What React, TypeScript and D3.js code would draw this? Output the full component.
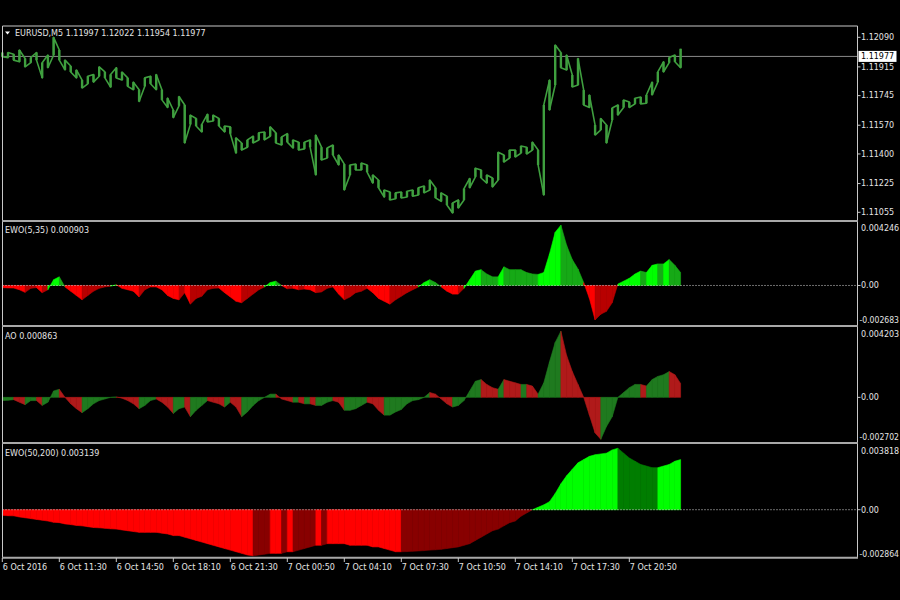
import React from 'react';
import * as d3 from 'd3';

// ---------- DATA ----------
const symbolTitle = 'EURUSD,M5';
const lastBar = [1.11997, 1.12022, 1.11954, 1.11977]; // O H L C
const timeLabels = ['6 Oct 2016', '6 Oct 11:30', '6 Oct 14:50', '6 Oct 18:10', '6 Oct 21:30', '7 Oct 00:50', '7 Oct 04:10', '7 Oct 07:30', '7 Oct 10:50', '7 Oct 14:10', '7 Oct 17:30', '7 Oct 20:50'];
const priceTicks = [1.1209, 1.11915, 1.11745, 1.1157, 1.114, 1.11225, 1.11055];

// price high / low sampled every 20 minutes starting 6 Oct 08:10
const priceHigh = [
  1.12000, 1.12000, 1.11990, 1.12015, 1.11965, 1.11970, 1.12000, 1.11940, 1.11985, 1.12090,
  1.12015, 1.11955, 1.11920, 1.11897, 1.11837, 1.11860, 1.11870, 1.11915, 1.11885, 1.11870,
  1.11910, 1.11885, 1.11850, 1.11825, 1.11780, 1.11850, 1.11860, 1.11870, 1.11780, 1.11730,
  1.11660, 1.11740, 1.11690, 1.11630, 1.11610, 1.11575, 1.11635, 1.11630, 1.11610, 1.11565,
  1.11560, 1.11495, 1.11465, 1.11483, 1.11505, 1.11525, 1.11530, 1.11560, 1.11525, 1.11500,
  1.11520, 1.11483, 1.11470, 1.11470, 1.11483, 1.11512, 1.11440, 1.11435, 1.11453, 1.11394,
  1.11340, 1.11335, 1.11340, 1.11346, 1.11335, 1.11276, 1.11246, 1.11187, 1.11175, 1.11170,
  1.11175, 1.11180, 1.11187, 1.11200, 1.11210, 1.11246, 1.11200, 1.11170, 1.11150, 1.11110,
  1.11128, 1.11195, 1.11255, 1.11316, 1.11305, 1.11276, 1.11258, 1.11410, 1.11394, 1.11423,
  1.11423, 1.11447, 1.11440, 1.11470, 1.11423, 1.11690, 1.11837, 1.12044, 1.12000, 1.11985,
  1.11867, 1.11965, 1.11778, 1.11749, 1.11571, 1.11610, 1.11571, 1.11672, 1.11690, 1.11719,
  1.11707, 1.11730, 1.11737, 1.11749, 1.11825, 1.11885, 1.11945, 1.11970, 1.11985, 1.12022,
];
const priceLow = [
  1.11975, 1.11970, 1.11955, 1.11945, 1.11915, 1.11940, 1.11955, 1.11850, 1.11910, 1.11985,
  1.11955, 1.11897, 1.11885, 1.11850, 1.11790, 1.11815, 1.11825, 1.11860, 1.11850, 1.11795,
  1.11850, 1.11837, 1.11800, 1.11780, 1.11710, 1.11800, 1.11815, 1.11780, 1.11720, 1.11675,
  1.11615, 1.11685, 1.11465, 1.11575, 1.11565, 1.11530, 1.11590, 1.11595, 1.11565, 1.11530,
  1.11520, 1.11405, 1.11423, 1.11440, 1.11465, 1.11483, 1.11483, 1.11505, 1.11465, 1.11453,
  1.11470, 1.11435, 1.11423, 1.11430, 1.11440, 1.11276, 1.11364, 1.11376, 1.11394, 1.11335,
  1.11187, 1.11276, 1.11305, 1.11305, 1.11293, 1.11228, 1.11200, 1.11145, 1.11128, 1.11135,
  1.11140, 1.11145, 1.11150, 1.11157, 1.11170, 1.11187, 1.11140, 1.11120, 1.11098, 1.11051,
  1.11080, 1.11128, 1.11200, 1.11265, 1.11258, 1.11228, 1.11205, 1.11246, 1.11352, 1.11376,
  1.11382, 1.11405, 1.11400, 1.11423, 1.11335, 1.11157, 1.11660, 1.11808, 1.11910, 1.11897,
  1.11796, 1.11808, 1.11690, 1.11675, 1.11512, 1.11542, 1.11465, 1.11601, 1.11630, 1.11675,
  1.11675, 1.11696, 1.11696, 1.11700, 1.11749, 1.11825, 1.11885, 1.11940, 1.11945, 1.11910,
];

const ewoFast = [
  -0.00015, -0.00017, -0.00018, -0.0003, -0.00048, -0.0002, -0.00015, -0.0005, -0.0003, 0.0004,
  0.0006, -0.0001, -0.0004, -0.0007, -0.001, -0.0007, -0.0004, -0.0002, -0.0001, -0.00005,
  0.00005, -0.0002, -0.0003, -0.0004, -0.0008, -0.0003, -0.0001, -0.0001, -0.0003, -0.0007,
  -0.0009, -0.001, -0.0005, -0.0013, -0.0009, -0.00075, -0.0003, -0.0002, -0.00018, -0.0005,
  -0.0008, -0.0011, -0.0012, -0.0009, -0.0006, -0.0003, -0.0001, 0.0002, 0.0003, 0,
  -0.00023, -0.0002, -0.0003, -0.00025, -0.0003, -0.0005, -0.00045, -0.0002, -0.0001, -0.0006,
  -0.001, -0.0008, -0.0005, -0.0004, -0.0002, -0.0005, -0.0009, -0.0011, -0.0013, -0.001,
  -0.00075, -0.0005, -0.0003, -0.0001, 0.0002, 0.0004, 0.0002, -0.0001, -0.0004, -0.0006,
  -0.0006, -0.0002, 0.0004, 0.001, 0.0011, 0.0008, 0.0006, 0.0006, 0.0013, 0.0011,
  0.0011, 0.0011, 0.0009, 0.0008, 0.00077, 0.0009, 0.0022, 0.0037, 0.0042, 0.0028,
  0.0018, 0.00115, 0.0002, -0.0009, -0.0024, -0.002, -0.0018, -0.0012, 0.0001, 0.0003,
  0.0005, 0.0008, 0.001, 0.0009, 0.0014, 0.0015, 0.0015, 0.0018, 0.0014, 0.0009,
];
const aoValues = [
  -0.0002, -0.00018, -0.00014, -0.0003, -0.00045, -0.0002, -0.0002, -0.0005, -0.0003, 0.0004,
  0.0005, 0, -0.0004, -0.0007, -0.00095, -0.0007, -0.0004, -0.0002, -0.0001, 0,
  0.00003, -0.00005, -0.0002, -0.0004, -0.0007, -0.0005, -0.0002, -0.0001, -0.0003, -0.0006,
  -0.001, -0.0007, -0.0006, -0.0012, -0.0008, -0.0005, -0.0002, -0.0003, -0.0004, -0.0006,
  -0.0003, -0.0006, -0.0012, -0.0009, -0.0005, -0.0002, 0, 0.0002, 0.0002, -0.0001,
  -0.0002, -0.0003, -0.0003, -0.0004, -0.0004, -0.0005, -0.0005, -0.0003, -0.0002, -0.0003,
  -0.0008, -0.0008, -0.0007, -0.0005, -0.0003, -0.0004, -0.0008, -0.0011, -0.0011, -0.0009,
  -0.00075, -0.0004, -0.0002, -0.00014, 0, 0.0003, 0.0002, -0.0001, -0.0004, -0.0006,
  -0.0005, -0.0002, 0.0004, 0.001, 0.0011, 0.0008, 0.0006, 0.0005, 0.0011, 0.001,
  0.0009, 0.0008, 0.0008, 0.0007, 0.0002, 0.0009, 0.0022, 0.0034, 0.0041, 0.0026,
  0.0016, 0.0008, 0, -0.0011, -0.0022, -0.0026, -0.0018, -0.0012, 0, 0.0003,
  0.0006, 0.0008, 0.0008, 0.0007, 0.0011, 0.0013, 0.0014, 0.0016, 0.0014, 0.00086,
];
const ewoSlow = [
  -0.00035, -0.00037, -0.00038, -0.00045, -0.0005, -0.00055, -0.0006, -0.00065, -0.0007, -0.00078,
  -0.0008, -0.00088, -0.00092, -0.00097, -0.001, -0.00105, -0.0011, -0.00112, -0.00115, -0.00118,
  -0.0012, -0.00125, -0.0013, -0.00135, -0.0014, -0.0014, -0.0014, -0.0014, -0.00145, -0.0015,
  -0.0016, -0.0016, -0.0017, -0.0018, -0.0019, -0.002, -0.0021, -0.0022, -0.0023, -0.0024,
  -0.0025, -0.0026, -0.0027, -0.0028, -0.00285, -0.0028, -0.00275, -0.0027, -0.0027, -0.0027,
  -0.0026, -0.0026, -0.0025, -0.0024, -0.0023, -0.0022, -0.0022, -0.0021, -0.0021, -0.0021,
  -0.0021, -0.0022, -0.0022, -0.0022, -0.0022, -0.0023, -0.0023, -0.0024, -0.0025, -0.0026,
  -0.0026, -0.00259, -0.00257, -0.00255, -0.00253, -0.0025, -0.00248, -0.00245, -0.0024, -0.00235,
  -0.0023, -0.0022, -0.0021, -0.0019, -0.0017, -0.0015, -0.0013, -0.0012, -0.001, -0.0008,
  -0.0007, -0.0004, -0.0002, 0, 0.00015, 0.0003, 0.0005, 0.001, 0.0016, 0.0021,
  0.0025, 0.0029, 0.0031, 0.0033, 0.0034, 0.00345, 0.0035, 0.0037, 0.0038, 0.0035,
  0.0032, 0.003, 0.0028, 0.0027, 0.0026, 0.0026, 0.0027, 0.0028, 0.003, 0.0031,
];

const ewoFastRange = [-0.002683, 0.004246];
const aoRange = [-0.002702, 0.004203];
const ewoSlowRange = [-0.002864, 0.003818];
const ewoFastLast = '0.000903';
const aoLast = '0.000863';
const ewoSlowLast = '0.003139';

// ---------- LAYOUT ----------
const W = 900, H = 600;
const L = 2.5, R = 857.5;
const FONT = 'DejaVu Sans, Verdana, sans-serif';
const TXT = '#e4e4e4';
const PRICE_GREEN = '#3f9f3f';
const MIN = 60000;
const t0 = Date.UTC(2016, 9, 6, 8, 10);
const step = 20 * MIN;
const times = priceHigh.map((_, i) => new Date(t0 + i * step));
const tickTimes = timeLabels.map((_, k) => new Date(t0 + k * 200 * MIN));

const x = d3.scaleUtc().domain([times[0], times[times.length - 1]]).range([2.3, 2.3 + (times.length - 1) * 5.7]);
const yPrice = d3.scaleLinear().domain([1.11055, 1.1209]).range([212.3, 37.3]);
const yFast = d3.scaleLinear().domain(ewoFastRange).range([324, 224.5]);
const yAO = d3.scaleLinear().domain(aoRange).range([441, 329.5]);
const ySlow = d3.scaleLinear().domain(ewoSlowRange).range([556, 448]);

type ColorFn = (a: number, b: number) => string;
const ewoColor = (bg: string, dg: string, br: string, dr: string): ColorFn => (a, b) => {
  const mid = (a + b) / 2;
  const rising = b > a;
  if (mid >= 0) return rising ? bg : dg;
  return rising ? dr : br;
};
const aoColor: ColorFn = (a, b) => (b >= a ? '#1f7a1f' : '#b01a1a');

function Histogram({ values, y, color }: { values: number[]; y: d3.ScaleLinear<number, number>; color: ColorFn }) {
  const area = d3.area<[Date, number]>().x((d) => x(d[0])).y0(y(0)).y1((d) => y(d[1]));
  return (
    <g>
      {values.slice(0, -1).map((v, i) => {
        const w = values[i + 1];
        const c = color(v, w);
        const d = area([[times[i], v], [times[i + 1], w]]) || '';
        return <path key={i} d={d} fill={c} stroke={c} strokeWidth={0.6} />;
      })}
    </g>
  );
}

function RightLabel({ yv, text, tick, fit }: { yv: number; text: string; tick?: boolean; fit?: boolean }) {
  return (
    <g>
      {tick && <line x1={R} x2={R + 3} y1={yv} y2={yv} stroke="#c8c8c8" strokeWidth={1} />}
      <text
        x={fit ? R + 2 : R + 3.5}
        y={yv}
        dy="0.35em"
        fontSize={8}
        fontFamily={FONT}
        fill={TXT}
        {...(fit ? { textLength: 39.5, lengthAdjust: 'spacingAndGlyphs' } : {})}
      >
        {text}
      </text>
    </g>
  );
}

export default function App() {
  // price zig-zag path through high/low of each sample
  const pts: [number, number][] = [];
  times.forEach((t, i) => {
    const xi = x(t);
    if (i % 2 === 0) {
      pts.push([xi, yPrice(priceHigh[i])]);
      pts.push([xi, yPrice(priceLow[i])]);
    } else {
      pts.push([xi, yPrice(priceLow[i])]);
      pts.push([xi, yPrice(priceHigh[i])]);
    }
  });
  const priceLine = d3.line()(pts) || '';
  const close = lastBar[3];
  const sepColor = '#a8a8a8';
  const separators = [221, 326, 443, 557.7];

  return (
    <svg width={W} height={H} style={{ position: 'fixed', left: 0, top: 0, background: '#000' }}>
      <rect x={0} y={0} width={W} height={H} fill="#000" />

      {/* price panel */}
      <line x1={L} x2={R} y1={yPrice(close)} y2={yPrice(close)} stroke="#8a8a8a" strokeWidth={1} />
      <g>
        {times.map((t, i) => (
          <line key={i} x1={x(t)} x2={x(t)} y1={yPrice(priceHigh[i])} y2={yPrice(priceLow[i])} stroke={PRICE_GREEN} strokeWidth={2.4} />
        ))}
        <path d={priceLine} fill="none" stroke={PRICE_GREEN} strokeWidth={1.6} strokeLinejoin="round" />
      </g>
      <path d="M5,31.5 L10,31.5 L7.5,34.5 Z" fill="#ffffff" />
      <text x={15} y={36} fontSize={8} fontFamily={FONT} fill={TXT}>
        {symbolTitle}{'  '}{lastBar.map((v) => v.toFixed(5)).join(' ')}
      </text>
      {priceTicks.map((v) => (
        <RightLabel key={v} yv={yPrice(v)} text={v.toFixed(5)} tick />
      ))}
      <rect x={R + 1} y={yPrice(close) - 5.5} width={38} height={11} fill="#ffffff" />
      <text x={R + 3.5} y={yPrice(close)} dy="0.35em" fontSize={8} fontFamily={FONT} fill="#000">{close.toFixed(5)}</text>

      {/* EWO(5,35) */}
      <Histogram values={ewoFast} y={yFast} color={ewoColor('#00ff00', '#16a916', '#ff0000', '#b80000')} />
      <line x1={L} x2={R} y1={yFast(0)} y2={yFast(0)} stroke="#d8d8d8" strokeWidth={1} strokeDasharray="1,2" />
      <text x={5} y={233} fontSize={8} fontFamily={FONT} fill={TXT}>EWO(5,35) {ewoFastLast}</text>
      <RightLabel yv={yFast(ewoFastRange[1]) + 4} text={ewoFastRange[1].toFixed(6)} />
      <RightLabel yv={yFast(0)} text="0.00" tick />
      <RightLabel yv={yFast(ewoFastRange[0]) - 3.5} text={ewoFastRange[0].toFixed(6)} fit />

      {/* AO */}
      <Histogram values={aoValues} y={yAO} color={aoColor} />
      <text x={5} y={339} fontSize={8} fontFamily={FONT} fill={TXT}>AO {aoLast}</text>
      <RightLabel yv={yAO(aoRange[1]) + 4.5} text={aoRange[1].toFixed(6)} />
      <RightLabel yv={yAO(0)} text="0.00" tick />
      <RightLabel yv={yAO(aoRange[0]) - 3.5} text={aoRange[0].toFixed(6)} fit />

      {/* EWO(50,200) */}
      <Histogram values={ewoSlow} y={ySlow} color={ewoColor('#00ff00', '#007d00', '#ff0000', '#880000')} />
      <line x1={L} x2={R} y1={ySlow(0)} y2={ySlow(0)} stroke="#d8d8d8" strokeWidth={1} strokeDasharray="1,2" />
      <text x={5} y={456} fontSize={8} fontFamily={FONT} fill={TXT}>EWO(50,200) {ewoSlowLast}</text>
      <RightLabel yv={ySlow(ewoSlowRange[1]) + 3} text={ewoSlowRange[1].toFixed(6)} />
      <RightLabel yv={ySlow(0)} text="0.00" tick />
      <RightLabel yv={ySlow(ewoSlowRange[0]) - 2} text={ewoSlowRange[0].toFixed(6)} fit />

      {/* frame */}
      <line x1={L} x2={R} y1={26} y2={26} stroke="#c8c8c8" strokeWidth={1} />
      <line x1={L} x2={L} y1={26} y2={558} stroke="#c8c8c8" strokeWidth={1} />
      <line x1={R} x2={R} y1={26} y2={558} stroke="#c8c8c8" strokeWidth={1} />
      {separators.map((s) => (
        <line key={s} x1={L - 0.5} x2={R + 0.5} y1={s} y2={s} stroke={sepColor} strokeWidth={2} />
      ))}

      {/* time axis */}
      {tickTimes.map((t, k) => (
        <g key={k}>
          <line x1={x(t)} x2={x(t)} y1={558} y2={562} stroke="#c8c8c8" strokeWidth={1} />
          <text x={x(t) + 0.5} y={570} fontSize={8} fontFamily={FONT} fill={TXT}>{timeLabels[k]}</text>
        </g>
      ))}
    </svg>
  );
}
